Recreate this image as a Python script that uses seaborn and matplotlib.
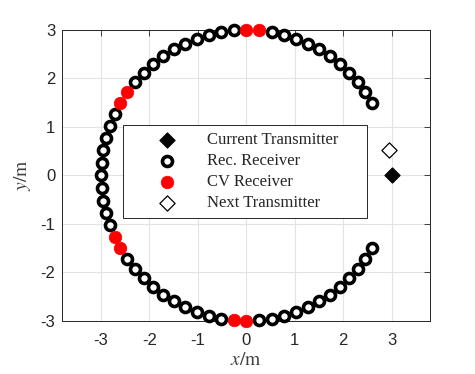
import numpy as np
import pandas as pd
import matplotlib
matplotlib.use("Agg")
import matplotlib.pyplot as plt
import seaborn as sns

# ---- data ----
radius = 3.0
rec_angles_deg = [30, 35, 40, 45, 50, 55, 60, 65, 70, 75, 80,
                  95, 100, 105, 110, 115, 120, 125, 130, 135, 140,
                  155, 160, 165, 170, 175, 180, 185, 190, 195, 200,
                  215, 220, 225, 230, 235, 240, 245, 250, 255, 260,
                  275, 280, 285, 290, 295, 300, 305, 310, 315, 320, 325, 330]
cv_angles_deg = [85, 90, 145, 150, 205, 210, 265, 270]
current_tx = (3.0, 0.0)
next_tx = (2.954, 0.521)
labels = ["Current Transmitter", "Rec. Receiver", "CV Receiver", "Next Transmitter"]
x_ticks = [-3, -2, -1, 0, 1, 2, 3]
y_ticks = [-3, -2, -1, 0, 1, 2, 3]

rec = pd.DataFrame({"x": radius * np.cos(np.radians(rec_angles_deg)),
                    "y": radius * np.sin(np.radians(rec_angles_deg))})
cv = pd.DataFrame({"x": radius * np.cos(np.radians(cv_angles_deg)),
                   "y": radius * np.sin(np.radians(cv_angles_deg))})
cur = pd.DataFrame({"x": [current_tx[0]], "y": [current_tx[1]]})
nxt = pd.DataFrame({"x": [next_tx[0]], "y": [next_tx[1]]})

sns.set_style("white")
plt.rcParams["mathtext.fontset"] = "stix"

fig = plt.figure(figsize=(4.75, 3.74), dpi=100)
ax = fig.add_axes([0.131, 0.142, 0.775, 0.778])

kw = dict(ax=ax, zorder=3, clip_on=False)
sns.scatterplot(data=cur, x="x", y="y", marker="D", s=60, color="black",
                edgecolor="black", linewidth=0.8, label=labels[0], **kw)
sns.scatterplot(data=rec, x="x", y="y", marker="o", s=52, facecolor="white",
                edgecolor="black", linewidth=2.6, label=labels[1], **kw)
sns.scatterplot(data=cv, x="x", y="y", marker="o", s=82, color="#ff0000",
                edgecolor="#ff0000", linewidth=0.5, label=labels[2], **kw)
sns.scatterplot(data=nxt, x="x", y="y", marker="D", s=60, facecolor="white",
                edgecolor="black", linewidth=0.9, label=labels[3], **kw)

ax.set_xlim(-3.8, 3.8)
ax.set_ylim(-3, 3)
ax.set_xticks(x_ticks)
ax.set_yticks(y_ticks)
ax.set_xticklabels([str(t) for t in x_ticks], fontsize=12, family="Liberation Sans")
ax.set_yticklabels([str(t) for t in y_ticks], fontsize=12, family="Liberation Sans")
ax.grid(True, color="#e3e3e3", linewidth=0.8)
ax.set_axisbelow(True)
ax.tick_params(direction="in", length=4, width=0.6, color="#262626",
               top=True, right=True, labelcolor="#262626", pad=5)
ax.tick_params(axis="x", pad=9)
for sp in ax.spines.values():
    sp.set_color("#262626")
    sp.set_linewidth(0.7)
ax.set_xlabel(r"$x/\mathrm{m}$", fontsize=14, color="#404040", labelpad=1)
ax.set_ylabel(r"$y/\mathrm{m}$", fontsize=14, color="#404040", labelpad=5)

leg = ax.legend(loc="upper left", bbox_to_anchor=(0.166, 0.352, 0.663, 0.32),
                mode="expand", frameon=True,
                fancybox=False, edgecolor="#262626", framealpha=1,
                prop={"family": "Liberation Serif", "size": 12},
                handletextpad=0.2, borderpad=0.4, labelspacing=0.3,
                handlelength=4.4, borderaxespad=0)
leg.get_frame().set_linewidth(0.7)

fig.savefig("out.png", dpi=100)
